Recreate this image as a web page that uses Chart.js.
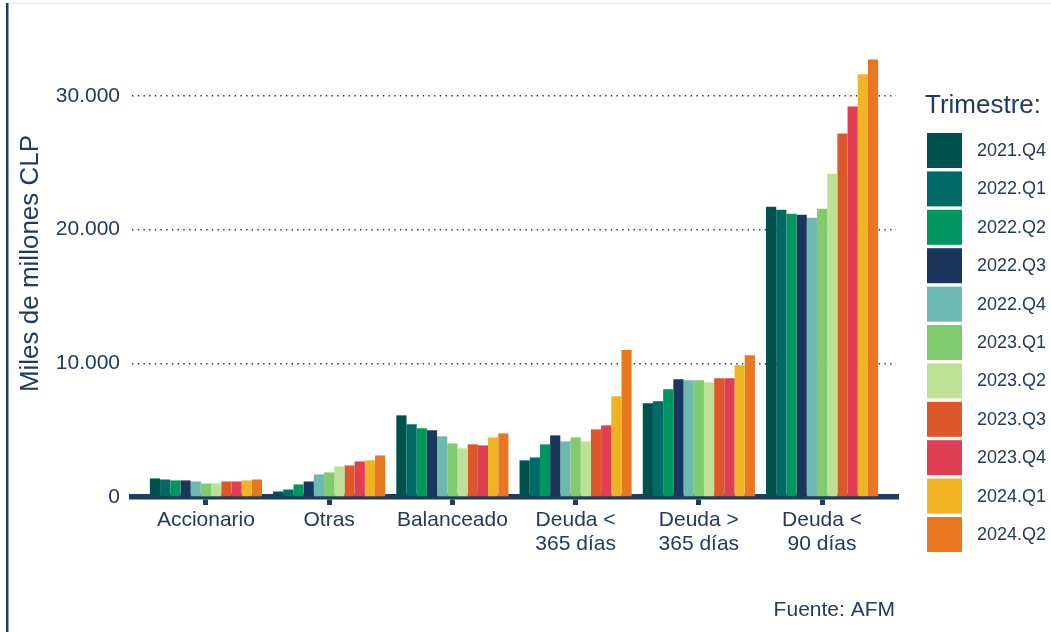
<!DOCTYPE html>
<html>
<head>
<meta charset="utf-8">
<script src="https://cdn.jsdelivr.net/npm/chart.js@4"></script>
<style>
  body { margin: 0; background: #fff; }
</style>
</head>
<body>
<canvas id="fondosChart" width="1051" height="632"></canvas>
<script>
const categorias = ["Accionario", "Otras", "Balanceado", ["Deuda <", "365 días"], ["Deuda >", "365 días"], ["Deuda <", "90 días"]];
const trimestres = ["2021.Q4", "2022.Q1", "2022.Q2", "2022.Q3", "2022.Q4", "2023.Q1", "2023.Q2", "2023.Q3", "2023.Q4", "2024.Q1", "2024.Q2"];
const colores = ["#00524f", "#006b66", "#00965e", "#1b365d", "#6cbaaf", "#80cb6e", "#bde197", "#dc582a", "#e03e52", "#f0b323", "#e87722"];

// miles de millones CLP, en el orden de categorias
const v2021Q4 = [1390, 410, 6110, 2740, 7010, 21720];
const v2022Q1 = [1310, 560, 5440, 2960, 7160, 21490];
const v2022Q2 = [1240, 940, 5140, 3940, 8060, 21190];
const v2022Q3 = [1240, 1160, 4990, 4610, 8810, 21120];
const v2022Q4 = [1160, 1690, 4540, 4160, 8740, 20890];
const v2023Q1 = [1010, 1840, 4010, 4460, 8740, 21570];
const v2023Q2 = [1010, 2290, 3640, 4160, 8590, 24190];
const v2023Q3 = [1160, 2360, 3940, 5060, 8890, 27190];
const v2023Q4 = [1160, 2660, 3860, 5360, 8890, 29220];
const v2024Q1 = [1240, 2740, 4460, 7540, 9860, 31620];
const v2024Q2 = [1310, 3110, 4760, 10990, 10610, 32740];
const valores = [v2021Q4, v2022Q1, v2022Q2, v2022Q3, v2022Q4, v2023Q1, v2023Q2, v2023Q3, v2023Q4, v2024Q1, v2024Q2];

const yTicks = [0, 10000, 20000, 30000];

const navy = "#203a60";
const fuente = "'Liberation Sans', Arial, sans-serif";

function miles(v) {
  return String(v).replace(/\B(?=(\d{3})+(?!\d))/g, ".");
}

// marco, leyenda y fuente
const extras = {
  id: "extras",
  beforeDraw(chart) {
    const ctx = chart.ctx;
    ctx.save();
    ctx.fillStyle = "#ededed";
    ctx.fillRect(8, 3, chart.width - 8, 1);
    ctx.fillStyle = navy;
    ctx.fillRect(6, 3, 2.5, chart.height - 3);
    ctx.restore();
  },
  afterDraw(chart) {
    const ctx = chart.ctx;
    ctx.save();
    ctx.fillStyle = navy;
    ctx.textBaseline = "middle";
    ctx.textAlign = "left";
    ctx.font = "26px " + fuente;
    ctx.fillText("Trimestre:", 925, 106);
    ctx.font = "18px " + fuente;
    chart.data.datasets.forEach((ds, i) => {
      const y = 133 + i * 38.4;
      ctx.fillStyle = ds.backgroundColor;
      ctx.fillRect(927, y, 35, 35);
      ctx.fillStyle = navy;
      ctx.fillText(ds.label, 977, y + 18);
    });
    ctx.font = "21px " + fuente;
    ctx.textAlign = "right";
    ctx.textBaseline = "alphabetic";
    ctx.fillText("Fuente: AFM", 895, 616);
    ctx.restore();
  }
};

const ctx = document.getElementById("fondosChart").getContext("2d");
new Chart(ctx, {
  type: "bar",
  data: {
    labels: categorias,
    datasets: trimestres.map((t, i) => ({
      label: t,
      data: valores[i],
      backgroundColor: colores[i],
      borderWidth: 0,
      categoryPercentage: 0.91,
      barPercentage: 1
    }))
  },
  options: {
    responsive: false,
    animation: false,
    layout: { padding: { top: 30, right: 155, bottom: 0, left: 0 } },
    plugins: {
      legend: { display: false },
      tooltip: { enabled: false }
    },
    scales: {
      x: {
        z: 1,
        afterBuildTicks: (scale) => {
          // margen de 0.6 categorías a cada lado, como el panel original
          scale._startValue = -0.6;
          scale._valueRange = categorias.length + 0.2;
        },
        afterFit: (scale) => { scale.height = 135; },
        grid: {
          display: true,
          drawOnChartArea: false,
          offset: false,
          color: navy,
          lineWidth: 5,
          tickLength: 8
        },
        border: { display: true, color: navy, width: 5.5 },
        ticks: {
          color: navy,
          padding: 3,
          maxRotation: 0,
          font: { family: fuente, size: 21, lineHeight: 1.15 }
        }
      },
      y: {
        min: 0,
        max: 34940,
        afterBuildTicks: (scale) => {
          scale.ticks = yTicks.map((v) => ({ value: v }));
        },
        afterFit: (scale) => { scale.width = 132; },
        grid: {
          color: (c) => (c.tick && c.tick.value === 0 ? "rgba(0,0,0,0)" : "#1f3559"),
          lineWidth: 1.4,
          drawTicks: false
        },
        border: { display: false, dash: [1.4, 4.3] },
        ticks: {
          color: navy,
          padding: 12,
          font: { family: fuente, size: 21 },
          callback: (v) => miles(v)
        },
        title: {
          display: true,
          text: "Miles de millones CLP",
          color: navy,
          padding: { top: 15, bottom: 0 },
          font: { family: fuente, size: 26, lineHeight: 1.2 }
        }
      }
    }
  },
  plugins: [extras]
});
</script>
</body>
</html>
